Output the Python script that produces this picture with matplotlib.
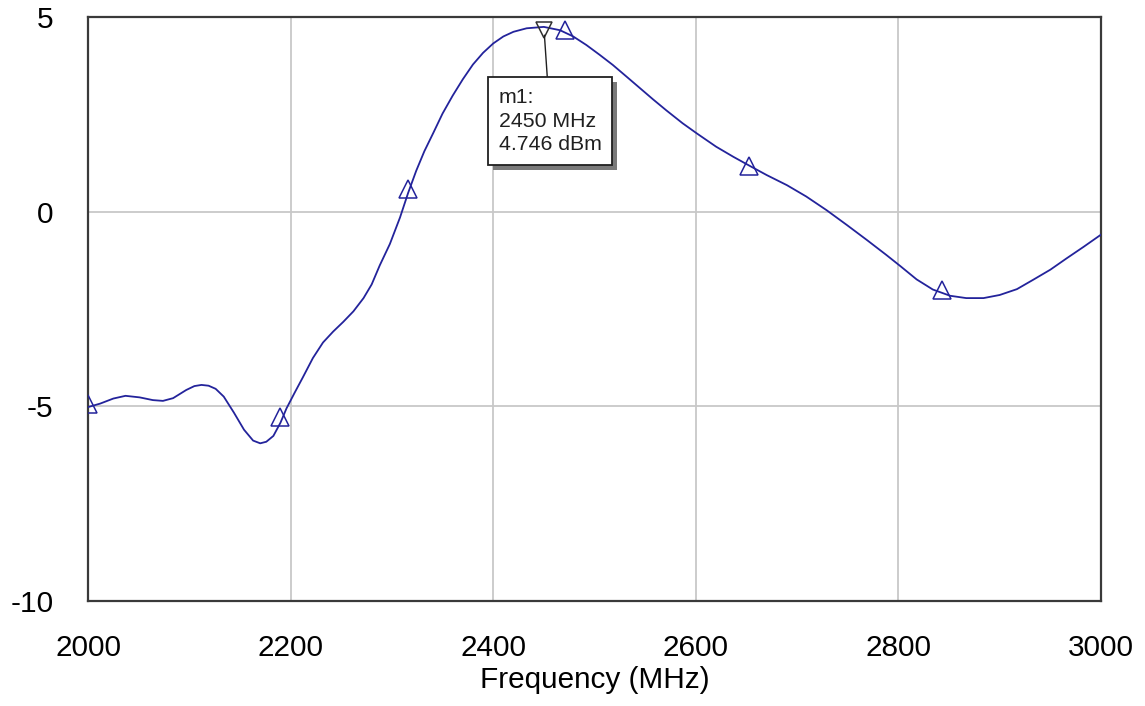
import matplotlib
matplotlib.use("Agg")
import matplotlib.pyplot as plt
import matplotlib.patheffects as pe

# power vs frequency trace
freq_mhz = [2000, 2012, 2025, 2037, 2051, 2064, 2074, 2084, 2097, 2105,
            2112, 2119, 2126, 2134, 2144, 2154, 2163, 2170, 2176, 2183,
            2190, 2196, 2204, 2212, 2222, 2232, 2242, 2252, 2262, 2272,
            2280, 2288, 2298, 2308, 2316, 2324, 2332, 2341, 2350, 2360,
            2370, 2380, 2390, 2400, 2410, 2420, 2433, 2450, 2466, 2479,
            2492, 2505, 2518, 2532, 2545, 2558, 2571, 2587, 2601, 2620,
            2637, 2653, 2670, 2690, 2709, 2729, 2749, 2769, 2788, 2802,
            2818, 2834, 2851, 2867, 2884, 2900, 2917, 2933, 2950, 2966,
            2983, 3000]
power_dbm = [-5.02, -4.93, -4.80, -4.73, -4.77, -4.84, -4.86, -4.79, -4.58, -4.48,
             -4.45, -4.47, -4.55, -4.75, -5.16, -5.60, -5.88, -5.95, -5.91, -5.76,
             -5.42, -5.05, -4.65, -4.26, -3.76, -3.36, -3.08, -2.83, -2.56, -2.22,
             -1.87, -1.38, -0.83, -0.15, 0.48, 1.05, 1.55, 2.03, 2.52, 2.98,
             3.40, 3.78, 4.08, 4.32, 4.50, 4.62, 4.71, 4.746, 4.66, 4.50,
             4.28, 4.03, 3.77, 3.46, 3.17, 2.88, 2.60, 2.27, 2.01, 1.67,
             1.41, 1.18, 0.94, 0.68, 0.39, 0.04, -0.34, -0.73, -1.11, -1.40,
             -1.74, -2.00, -2.16, -2.22, -2.22, -2.14, -1.99, -1.75, -1.49, -1.20,
             -0.90, -0.59]

# trace symbols
sym_freq = [2000, 2190, 2316, 2471, 2653, 2843]
sym_power = [-4.94, -5.27, 0.58, 4.67, 1.17, -2.01]

# marker m1
m1_freq = 2450
m1_power = 4.746
m1_label = "m1:\n2450 MHz\n4.746 dBm"

x_ticks = [2000, 2200, 2400, 2600, 2800, 3000]
y_ticks = [-10, -5, 0, 5]

TRACE = "#23239b"

plt.rcParams["font.family"] = ["Liberation Sans", "DejaVu Sans"]
plt.rcParams["axes.unicode_minus"] = False

fig = plt.figure(figsize=(11.45, 7.06), dpi=100)
ax = fig.add_axes([88 / 1145, 1 - 601 / 706, 1013 / 1145, 584 / 706])

ax.plot(freq_mhz, power_dbm, color=TRACE, linewidth=1.3, zorder=3)
ax.plot(sym_freq, sym_power, linestyle="none", marker="^", markersize=13,
        markerfacecolor="none", markeredgecolor=TRACE, markeredgewidth=1.1, zorder=4)
ax.plot([m1_freq], [m1_power - 0.08], linestyle="none", marker="v", markersize=12,
        markerfacecolor="none", markeredgecolor="#303030", markeredgewidth=1.1, zorder=5)

# marker readout box with drop shadow
note = ax.annotate(m1_label, xy=(m1_freq, m1_power), xytext=(-45, -61),
                   textcoords="offset pixels", ha="left", va="top", fontsize=15.3,
                   linespacing=1.32, color="#202020",
                   bbox=dict(boxstyle="square,pad=0.5", fc="white", ec="#202020", lw=1.3),
                   arrowprops=dict(arrowstyle="-", color="#202020", lw=1.0,
                                   shrinkA=0, shrinkB=6),
                   zorder=7)
note.get_bbox_patch().set_path_effects([
    pe.SimplePatchShadow(offset=(3.6, -3.6), shadow_rgbFace="#7a7a7a", alpha=1.0),
    pe.Normal(),
])

ax.set_xlim(2000, 3000)
ax.set_ylim(-10, 5)
ax.set_xticks(x_ticks)
ax.set_yticks(y_ticks)
ax.grid(True, color="#c8c8c8", linewidth=1.3)
ax.set_axisbelow(True)
ax.tick_params(length=0, labelsize=21.4, colors="black")
ax.tick_params(axis="x", pad=24)
ax.tick_params(axis="y", pad=25)
for s in ax.spines.values():
    s.set_color("#3a3a3a")
    s.set_linewidth(1.6)

ax.set_xlabel("Frequency (MHz)", fontsize=21.4, labelpad=3)

fig.savefig("out.png", dpi=100)
